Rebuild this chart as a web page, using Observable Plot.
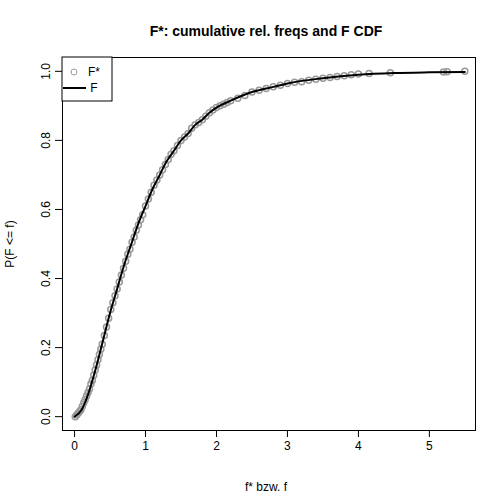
<!DOCTYPE html><html><head>
<script src="https://cdn.jsdelivr.net/npm/d3@7"></script>
<script src="https://cdn.jsdelivr.net/npm/@observablehq/plot@0.6"></script>
<style>body{margin:0;background:#fff}</style></head><body><div id="c"></div><script>
const cdfF=[0,0.1,0.2,0.3,0.4,0.5,0.6,0.7,0.8,0.9,1.0,1.1,1.2,1.3,1.4,1.5,1.6,1.7,1.8,1.9,2.0,2.2,2.5,2.8,3.0,3.5,4.0,4.5,5.0,5.5];
const cdfP=[0,0.02,0.07,0.14,0.22,0.30,0.37,0.44,0.50,0.56,0.61,0.66,0.70,0.74,0.77,0.80,0.82,0.845,0.86,0.88,0.895,0.915,0.94,0.955,0.965,0.98,0.99,0.995,0.997,0.998];
const ptF=[0.01,0.03,0.05,0.07,0.09,0.11,0.13,0.15,0.17,0.19,0.21,0.23,0.25,0.27,0.29,0.31,0.33,0.35,0.37,0.39,0.42,0.45,0.48,0.51,0.54,0.57,0.6,0.63,0.66,0.69,0.72,0.75,0.78,0.81,0.84,0.87,0.9,0.93,0.96,1.0,1.04,1.08,1.12,1.16,1.2,1.24,1.28,1.32,1.36,1.4,1.45,1.5,1.55,1.6,1.65,1.7,1.75,1.8,1.85,1.9,1.95,2.0,2.05,2.1,2.15,2.2,2.3,2.4,2.5,2.6,2.7,2.8,2.9,3.0,3.1,3.2,3.3,3.4,3.5,3.6,3.7,3.8,3.9,4.0,4.15,4.45,5.2,5.25,5.5];
const ptP=[0.0,0.005,0.01,0.015,0.02,0.03,0.04,0.05,0.06,0.07,0.08,0.095,0.105,0.12,0.135,0.15,0.165,0.18,0.195,0.21,0.235,0.26,0.285,0.31,0.33,0.35,0.37,0.39,0.41,0.43,0.45,0.47,0.485,0.505,0.52,0.54,0.555,0.57,0.585,0.61,0.63,0.65,0.67,0.685,0.70,0.715,0.73,0.745,0.76,0.77,0.785,0.80,0.81,0.82,0.835,0.845,0.852,0.86,0.87,0.88,0.888,0.895,0.90,0.905,0.91,0.915,0.922,0.93,0.94,0.945,0.95,0.955,0.96,0.965,0.968,0.97,0.974,0.977,0.98,0.982,0.985,0.987,0.99,0.992,0.994,0.996,0.998,0.999,1.0];
const xTicks=[0,1,2,3,4,5], yTicks=[0,0.2,0.4,0.6,0.8,1.0];
const cdf=cdfF.map((f,i)=>({f,p:cdfP[i]})), pts=ptF.map((f,i)=>({f,p:ptP[i]}));
const chart=Plot.plot({width:504,height:504,marginLeft:62,marginRight:29,marginTop:57,marginBottom:74,
 style:{fontFamily:"Liberation Sans, Arial, sans-serif",fontSize:"12px"},
 x:{domain:[-0.17,5.65]},y:{domain:[-0.04,1.04]},
 marks:[
  Plot.frame({stroke:"black"}),
  Plot.axisX({ticks:xTicks,tickSize:7,tickPadding:4,fontSize:12,label:null,tickFormat:d=>d}),
  Plot.axisY({ticks:yTicks,tickSize:7,tickRotate:-90,tickPadding:6,fontSize:12,label:null,tickFormat:d=>d.toFixed(1)}),
  Plot.dot(pts,{x:"f",y:"p",r:3,stroke:"#999",fill:"none"}),
  Plot.line(cdf,{x:"f",y:"p",stroke:"black",strokeWidth:2,curve:"monotone-x"})
 ]});
const svg=d3.select(chart);
svg.append("text").attr("x",266).attr("y",36).attr("text-anchor","middle").attr("font-weight","bold").attr("font-size",14).text("F*: cumulative rel. freqs and F CDF");
svg.append("text").attr("x",266).attr("y",491).attr("text-anchor","middle").attr("font-size",12).text("f* bzw. f");
svg.append("text").attr("transform","translate(14,244) rotate(-90)").attr("text-anchor","middle").attr("font-size",12).text("P(F <= f)");
const lg=svg.append("g").attr("font-size",12);
lg.append("rect").attr("x",62).attr("y",57).attr("width",50).attr("height",44).attr("fill","white").attr("stroke","black");
lg.append("circle").attr("cx",74).attr("cy",72).attr("r",3).attr("fill","none").attr("stroke","#999");
lg.append("line").attr("x1",63).attr("x2",86).attr("y1",88).attr("y2",88).attr("stroke","black").attr("stroke-width",2);
lg.append("text").attr("x",94).attr("y",76).text("F*");
lg.append("text").attr("x",94).attr("y",92).text("F");
document.getElementById("c").append(chart);
</script></body></html>
